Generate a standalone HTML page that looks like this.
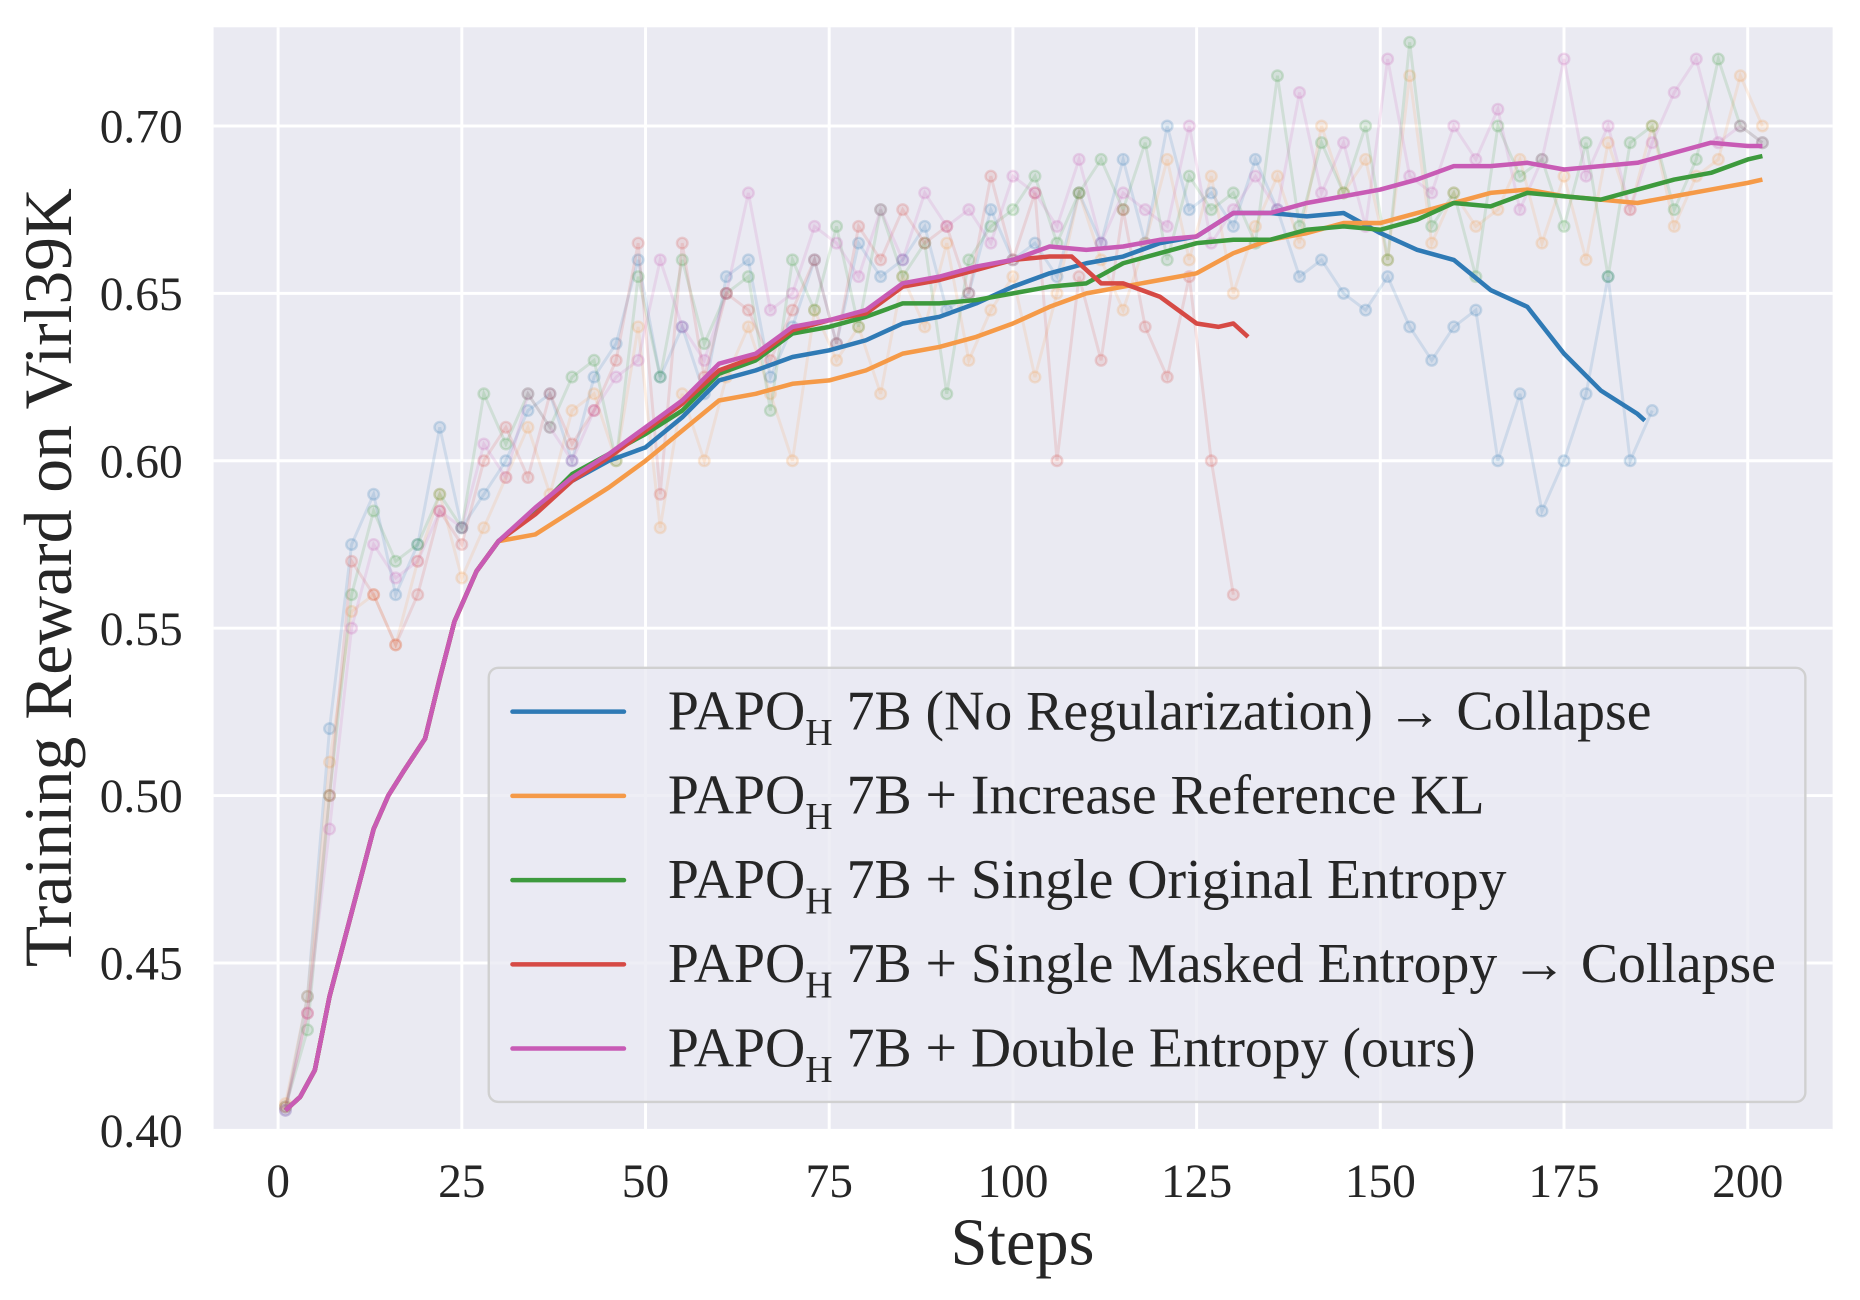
<!DOCTYPE html>
<html><head><meta charset="utf-8"><style>
html,body{margin:0;padding:0;background:#fff;}
svg{display:block;}
text{font-family:"Liberation Serif",serif;fill:#262626;}
</style></head><body>
<svg id="chart" width="1860" height="1300" viewBox="0 0 1568 1096" xmlns="http://www.w3.org/2000/svg">
<rect x="180" y="23" width="1365" height="930" fill="#eaeaf2"/>
<g id="grid"></g>
<g id="raw"></g>
<g id="smooth"></g>
<g id="ticks"></g>
<text x="862" y="1066" font-size="56" text-anchor="middle">Steps</text>
<text transform="translate(60,487) rotate(-90)" font-size="57" text-anchor="middle">Training Reward on Virl39K</text>
<g id="legend">
<rect x="412" y="563" width="1110" height="366" rx="8" fill="#eaeaf2" fill-opacity="0.8" stroke="#d0d0d0" stroke-width="2"/>
</g>
</svg>
<script>
const xTicks=[0,25,50,75,100,125,150,175,200];
const yTicks=[0.40,0.45,0.50,0.55,0.60,0.65,0.70];
const seriesNames=["blue","orange","green","red","magenta"];
const seriesColors=["#2f7ab5","#f59a48","#3d9a3d","#d64a45","#c85bb5"];
const legendLabels=["7B (No Regularization) \u2192 Collapse","7B + Increase Reference KL","7B + Single Original Entropy","7B + Single Masked Entropy \u2192 Collapse","7B + Double Entropy (ours)"];
const earlySteps=[1,3,5,7,10,13,15,17,20,22,24,27,30];
const earlyVals=[0.406,0.41,0.418,0.44,0.465,0.49,0.50,0.507,0.517,0.535,0.552,0.567,0.576];
const blueSteps=[35,40,45,50,55,60,65,70,75,80,85,90,95,100,105,110,115,120,125,130,135,140,145,150,155,160,165,170,175,180,185,186];
const blueVals=[0.585,0.594,0.600,0.604,0.613,0.624,0.627,0.631,0.633,0.636,0.641,0.643,0.647,0.652,0.656,0.659,0.661,0.665,0.667,0.674,0.674,0.673,0.674,0.668,0.663,0.660,0.651,0.646,0.632,0.621,0.614,0.612];
const orangeSteps=[35,40,45,50,55,60,65,70,75,80,85,90,95,100,105,110,115,120,125,130,135,140,145,150,155,160,165,170,175,180,185,190,195,200,202];
const orangeVals=[0.578,0.585,0.592,0.600,0.609,0.618,0.620,0.623,0.624,0.627,0.632,0.634,0.637,0.641,0.646,0.650,0.652,0.654,0.656,0.662,0.666,0.668,0.671,0.671,0.674,0.677,0.680,0.681,0.679,0.678,0.677,0.679,0.681,0.683,0.684];
const greenSteps=[35,40,45,50,55,60,65,70,75,80,85,90,95,100,105,110,115,120,125,130,135,140,145,150,155,160,165,170,175,180,185,190,195,200,202];
const greenVals=[0.585,0.596,0.602,0.608,0.615,0.626,0.630,0.638,0.640,0.643,0.647,0.647,0.648,0.650,0.652,0.653,0.659,0.662,0.665,0.666,0.666,0.669,0.670,0.669,0.672,0.677,0.676,0.680,0.679,0.678,0.681,0.684,0.686,0.690,0.691];
const redSteps=[35,40,45,50,55,60,65,70,75,80,85,90,95,100,105,108,112,115,120,125,128,130,132];
const redVals=[0.584,0.594,0.601,0.609,0.617,0.627,0.631,0.639,0.642,0.644,0.652,0.654,0.657,0.660,0.661,0.661,0.653,0.653,0.649,0.641,0.640,0.641,0.637];
const magentaSteps=[35,40,45,50,55,60,65,70,75,80,85,90,95,100,105,110,115,120,125,130,135,140,145,150,155,160,165,170,175,180,185,190,195,200,202];
const magentaVals=[0.586,0.595,0.602,0.610,0.618,0.629,0.632,0.640,0.642,0.645,0.653,0.655,0.658,0.660,0.664,0.663,0.664,0.666,0.667,0.674,0.674,0.677,0.679,0.681,0.684,0.688,0.688,0.689,0.687,0.688,0.689,0.692,0.695,0.694,0.694];
// raw (unsmoothed) values, one every 3 steps starting at step 1
const blueRaw=[0.406,0.44,0.52,0.575,0.59,0.56,0.575,0.61,0.58,0.59,0.60,0.615,0.62,0.60,0.625,0.635,0.66,0.625,0.64,0.62,0.655,0.66,0.625,0.64,0.66,0.635,0.665,0.655,0.66,0.67,0.645,0.65,0.675,0.66,0.665,0.655,0.68,0.665,0.69,0.665,0.70,0.675,0.68,0.67,0.69,0.675,0.655,0.66,0.65,0.645,0.655,0.64,0.63,0.64,0.645,0.60,0.62,0.585,0.60,0.62,0.655,0.60,0.615];
const orangeRaw=[0.408,0.44,0.51,0.555,0.56,0.545,0.57,0.59,0.565,0.58,0.595,0.61,0.59,0.615,0.62,0.60,0.64,0.58,0.62,0.60,0.625,0.64,0.62,0.60,0.645,0.63,0.64,0.62,0.655,0.64,0.665,0.63,0.645,0.655,0.625,0.65,0.68,0.66,0.645,0.665,0.69,0.66,0.685,0.65,0.67,0.685,0.665,0.70,0.68,0.69,0.66,0.715,0.665,0.68,0.67,0.675,0.69,0.665,0.685,0.66,0.695,0.675,0.70,0.67,0.685,0.69,0.715,0.70];
const greenRaw=[0.407,0.43,0.50,0.56,0.585,0.57,0.575,0.59,0.58,0.62,0.605,0.62,0.61,0.625,0.63,0.60,0.655,0.625,0.66,0.635,0.65,0.655,0.615,0.66,0.645,0.67,0.64,0.675,0.655,0.665,0.62,0.66,0.67,0.675,0.685,0.665,0.68,0.69,0.675,0.695,0.66,0.685,0.675,0.68,0.665,0.715,0.67,0.695,0.68,0.70,0.66,0.725,0.67,0.68,0.655,0.70,0.685,0.69,0.67,0.695,0.655,0.695,0.70,0.675,0.69,0.72,0.70,0.695];
const redRaw=[0.407,0.435,0.50,0.57,0.56,0.545,0.56,0.585,0.575,0.60,0.61,0.595,0.62,0.605,0.615,0.63,0.665,0.59,0.665,0.625,0.65,0.645,0.63,0.645,0.66,0.635,0.67,0.66,0.675,0.665,0.67,0.65,0.685,0.66,0.68,0.60,0.655,0.63,0.675,0.64,0.625,0.655,0.60,0.56];
const magentaRaw=[0.406,0.435,0.49,0.55,0.575,0.565,0.57,0.585,0.58,0.605,0.595,0.62,0.61,0.60,0.615,0.625,0.63,0.66,0.64,0.63,0.65,0.68,0.645,0.65,0.67,0.665,0.655,0.675,0.66,0.68,0.67,0.675,0.665,0.685,0.68,0.67,0.69,0.665,0.68,0.675,0.67,0.70,0.665,0.675,0.685,0.675,0.71,0.68,0.695,0.67,0.72,0.685,0.68,0.70,0.69,0.705,0.675,0.69,0.72,0.685,0.70,0.675,0.695,0.71,0.72,0.695,0.70,0.695];

const NS="http://www.w3.org/2000/svg";
const X0=234.4,XS=(1473.4-234.4)/200,Y0=953,YS=(953-106.2)/0.30;
function xs(s){return X0+s*XS;}
function ys(v){return Y0-(v-0.40)*YS;}
function mk(tag,parent){const e=document.createElementNS(NS,tag);parent.appendChild(e);return e;}
const grid=document.getElementById('grid'),ticks=document.getElementById('ticks');
xTicks.forEach(t=>{
  const l=mk('line',grid);
  
  
  l.setAttribute('x1',xs(t));l.setAttribute('x2',xs(t));l.setAttribute('y1',23);l.setAttribute('y2',953);
  l.setAttribute('stroke','#fff');l.setAttribute('stroke-width',2.5);
  const tx=mk('text',ticks);
  
  
  tx.setAttribute('x',xs(t));tx.setAttribute('y',1009);tx.setAttribute('font-size',40);tx.setAttribute('text-anchor','middle');
  tx.textContent=t;
});
yTicks.forEach(t=>{
  const l=mk('line',grid);
  
  
  l.setAttribute('x1',180);l.setAttribute('x2',1545);l.setAttribute('y1',ys(t));l.setAttribute('y2',ys(t));
  l.setAttribute('stroke','#fff');l.setAttribute('stroke-width',2.5);
  const tx=mk('text',ticks);
  
  
  tx.setAttribute('x',154);tx.setAttribute('y',ys(t)+14);tx.setAttribute('font-size',40);tx.setAttribute('text-anchor','end');
  tx.textContent=t.toFixed(2);
});
const raws=[blueRaw,orangeRaw,greenRaw,redRaw,magentaRaw];
const rawG=document.getElementById('raw');
raws.forEach((arr,i)=>{
  const pts=arr.map((v,k)=>[xs(1+3*k),ys(v)]);
  const p=mk('polyline',rawG);
  
  
  p.setAttribute('points',pts.map(q=>q.join(',')).join(' '));
  p.setAttribute('fill','none');p.setAttribute('stroke',seriesColors[i]);p.setAttribute('stroke-opacity',0.15);p.setAttribute('stroke-width',2.5);
  pts.forEach(q=>{
    const c=mk('circle',rawG);
    
    
    c.setAttribute('cx',q[0]);c.setAttribute('cy',q[1]);c.setAttribute('r',4.5);
    c.setAttribute('fill',seriesColors[i]);c.setAttribute('fill-opacity',0.12);c.setAttribute('stroke',seriesColors[i]);c.setAttribute('stroke-opacity',0.2);c.setAttribute('stroke-width',2);
  });
});
const sm=[[blueSteps,blueVals],[orangeSteps,orangeVals],[greenSteps,greenVals],[redSteps,redVals],[magentaSteps,magentaVals]];
const smG=document.getElementById('smooth');
sm.forEach((s,i)=>{
  const st=earlySteps.concat(s[0]),vv=earlyVals.concat(s[1]);
  const p=mk('polyline',smG);
  
  
  p.setAttribute('points',st.map((t,k)=>xs(t)+','+ys(vv[k])).join(' '));
  p.setAttribute('fill','none');p.setAttribute('stroke',seriesColors[i]);p.setAttribute('stroke-width',3.8);p.setAttribute('stroke-linejoin','round');
});
const lg=document.getElementById('legend');
legendLabels.forEach((lab,i)=>{
  const cy=600+71*i;
  const l=mk('line',lg);
  
  
  l.setAttribute('x1',432);l.setAttribute('x2',526);l.setAttribute('y1',cy);l.setAttribute('y2',cy);
  l.setAttribute('stroke',seriesColors[i]);l.setAttribute('stroke-width',3.8);l.setAttribute('stroke-linecap','round');
  const t=mk('text',lg);
  
  
  t.setAttribute('x',563);t.setAttribute('y',cy+15);t.setAttribute('font-size',47);
  const a=mk('tspan',t);a.textContent='PAPO';
  const b=mk('tspan',t);b.textContent='H';b.setAttribute('font-size',32);b.setAttribute('dy',13);
  const c=mk('tspan',t);c.textContent=' '+lab;c.setAttribute('dy',-13);
});
</script>
</body></html>
